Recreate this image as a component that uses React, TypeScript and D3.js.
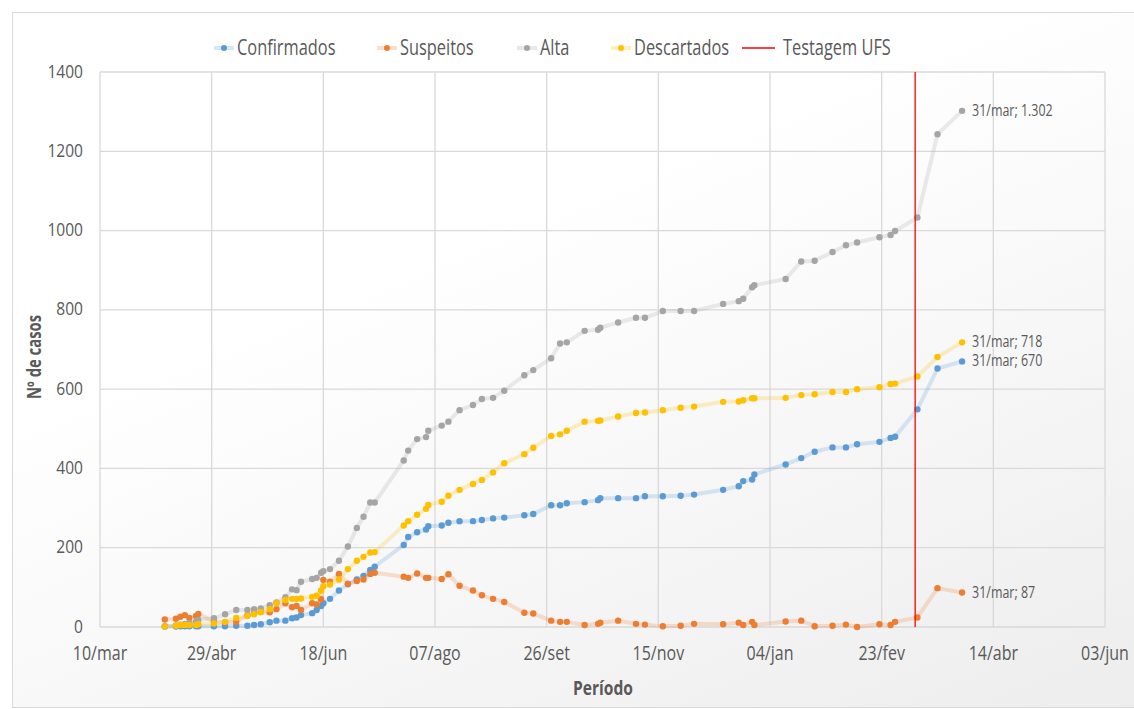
import React from "react";
import * as d3 from "d3";

// datas dos boletins (UFS)
const datas = [
  "2020-04-08", "2020-04-13", "2020-04-15", "2020-04-17", "2020-04-19", "2020-04-22", "2020-04-23", "2020-04-30",
  "2020-05-05", "2020-05-10", "2020-05-15", "2020-05-18", "2020-05-21", "2020-05-25", "2020-05-28",
  "2020-06-01", "2020-06-04", "2020-06-06", "2020-06-08", "2020-06-13", "2020-06-15", "2020-06-17", "2020-06-18", "2020-06-21", "2020-06-25", "2020-06-29",
  "2020-07-03", "2020-07-06", "2020-07-09", "2020-07-11", "2020-07-24", "2020-07-26", "2020-07-30",
  "2020-08-03", "2020-08-04", "2020-08-10", "2020-08-13", "2020-08-18", "2020-08-24", "2020-08-28",
  "2020-09-02", "2020-09-07", "2020-09-16", "2020-09-20", "2020-09-28",
  "2020-10-02", "2020-10-05", "2020-10-13", "2020-10-19", "2020-10-20", "2020-10-28",
  "2020-11-05", "2020-11-09", "2020-11-17", "2020-11-25",
  "2020-12-01", "2020-12-14", "2020-12-21", "2020-12-23", "2020-12-27", "2020-12-28",
  "2021-01-11", "2021-01-18", "2021-01-24",
  "2021-02-01", "2021-02-07", "2021-02-12", "2021-02-22", "2021-02-27",
  "2021-03-01", "2021-03-11", "2021-03-20", "2021-03-31",
];

const confirmados = [
  1, 1, 2, 2, 2, 2, 2, 2,
  2, 3, 3, 5, 7, 12, 16,
  16, 22, 24, 30, 35, 43, 53, 60, 71, 92, 108,
  120, 129, 144, 152, 207, 227, 239,
  246, 254, 256, 263, 267, 267, 270,
  274, 276, 282, 285, 307,
  307, 312, 315, 320, 325, 325,
  325, 330, 330, 331,
  334, 346, 355, 368, 372, 385,
  410, 426, 442,
  453, 453, 461, 467, 477,
  480, 549, 652, 670,
];

const suspeitos = [
  19, 21, 26, 30, 23, 28, 33, 14,
  12, 13, 30, 35, 38, 37, 45,
  60, 50, 53, 43, 60, 57, 70, 119, 114, 134, 109,
  116, 120, 134, 137, 127, 124, 135,
  124, 124, 121, 133, 104, 92, 80,
  71, 63, 36, 34, 16,
  13, 13, 5, 8, 11, 16,
  8, 6, 2, 3,
  8, 7, 11, 5, 13, 5,
  14, 16, 2,
  3, 6, 0, 7, 5,
  13, 24, 98, 87,
];

const alta = [
  2, 4, 6, 8, 10, 14, 18, 22,
  32, 43, 43, 45, 47, 55, 62,
  75, 95, 93, 114, 121, 124, 137, 141, 146, 167, 203,
  250, 278, 314, 314, 420, 445, 474,
  479, 495, 508, 518, 547, 560, 575,
  578, 596, 635, 648, 678,
  715, 718, 747, 750, 755, 768,
  780, 780, 797, 797,
  797, 815, 822, 828, 857, 862,
  878, 922, 924,
  946, 963, 970, 983, 989,
  999, 1033, 1243, 1302,
];

const descartados = [
  1, 3, 5, 5, 5, 5, 7, 9,
  13, 23, 28, 32, 38, 45, 60,
  68, 71, 71, 72, 76, 79, 92, 103, 107, 120, 146,
  167, 177, 188, 189, 256, 267, 283,
  298, 308, 316, 331, 346, 361, 371,
  390, 413, 436, 452, 482,
  486, 495, 518, 520, 521, 531,
  540, 541, 547, 553,
  556, 568, 569, 572, 577, 577,
  578, 585, 587,
  593, 593, 600, 605, 613,
  614, 632, 681, 718,
];

const tickDatas = [
  "2020-03-10", "2020-04-29", "2020-06-18", "2020-08-07", "2020-09-26",
  "2020-11-15", "2021-01-04", "2021-02-23", "2021-04-14", "2021-06-03",
];
const tickLabels = ["10/mar", "29/abr", "18/jun", "07/ago", "26/set", "15/nov", "04/jan", "23/fev", "14/abr", "03/jun"];
const yTicks = [0, 200, 400, 600, 800, 1000, 1200, 1400];
const testagemUFS = "2021-03-10";
const rotulos = ["31/mar; 670", "31/mar; 87", "31/mar; 1.302", "31/mar; 718"];

const W = 1134;
const H = 709;
const FONT = "'Open Sans', 'Noto Sans', sans-serif";
const GREY = "#595959";

const parse = d3.timeParse("%Y-%m-%d");

function CText({ x, y, size, anchor = "start", weight = 400, rotate = 0, sx = 0.78, fill = GREY, children }: any) {
  return (
    <g transform={`translate(${x},${y}) rotate(${rotate}) scale(${sx},1)`}>
      <text textAnchor={anchor} fontSize={size} fontWeight={weight} fill={fill} fontFamily={FONT}>
        {children}
      </text>
    </g>
  );
}

export default function App() {
  const x = d3.scaleTime().domain([parse(tickDatas[0])!, parse(tickDatas[tickDatas.length - 1])!]).range([100, 1105]);
  const y = d3.scaleLinear().domain([0, 1400]).range([627, 72]);
  const dts = datas.map((d) => parse(d)!);

  const series = [
    { nome: "Confirmados", valores: confirmados, cor: "#5B9BD5", lx: 214, rot: rotulos[0] },
    { nome: "Suspeitos", valores: suspeitos, cor: "#ED7D31", lx: 377, rot: rotulos[1] },
    { nome: "Alta", valores: alta, cor: "#A5A5A5", lx: 517, rot: rotulos[2] },
    { nome: "Descartados", valores: descartados, cor: "#FFC000", lx: 611, rot: rotulos[3] },
  ];

  const line = d3
    .line<number>()
    .x((_, i) => x(dts[i]))
    .y((v) => y(v));

  const xRed = x(parse(testagemUFS)!);
  const last = dts.length - 1;

  return (
    <svg width={W} height={H} style={{ position: "absolute", left: 0, top: 0 }}>
      <defs>
        <linearGradient id="bg" x1="0.5" y1="0.25" x2="1" y2="1">
          <stop offset="0" stopColor="#ffffff" />
          <stop offset="1" stopColor="#ededed" />
        </linearGradient>
      </defs>
      <rect x={0} y={0} width={W} height={H} fill="#ffffff" />
      <rect x={12.5} y={12.5} width={W - 12} height={H - 14} fill="url(#bg)" stroke="#d9d9d9" />

      {/* grade */}
      {yTicks.map((t) => (
        <line key={"h" + t} x1={100} x2={1105} y1={y(t)} y2={y(t)} stroke="#d9d9d9" strokeWidth={1.3} />
      ))}
      {tickDatas.map((t) => (
        <line key={"v" + t} x1={x(parse(t)!)} x2={x(parse(t)!)} y1={72} y2={627} stroke="#d9d9d9" strokeWidth={1.3} />
      ))}

      {/* rótulos eixos */}
      {yTicks.map((t) => (
        <CText key={"yl" + t} x={83} y={y(t) + 5.5} size={19} sx={0.82} anchor="end">
          {t}
        </CText>
      ))}
      {tickDatas.map((t, i) => (
        <CText key={"xl" + t} x={x(parse(t)!)} y={660} size={20} sx={0.8} anchor="middle">
          {tickLabels[i]}
        </CText>
      ))}
      <CText x={603} y={695} size={20} anchor="middle" weight={700}>
        Período
      </CText>
      <CText x={41} y={357} size={19} anchor="middle" weight={700} rotate={-90}>
        Nº de casos
      </CText>

      {/* séries */}
      {series.map((s) => (
        <g key={s.nome}>
          <path d={line(s.valores) || ""} fill="none" stroke={s.cor} strokeOpacity={0.22} strokeWidth={4} strokeLinejoin="round" />
          {s.valores.map((v, i) => (
            <circle key={i} cx={x(dts[i])} cy={y(v)} r={3.2} fill={s.cor} />
          ))}
          <CText x={x(dts[last]) + 10} y={y(s.valores[last]) + 5} size={16}>
            {s.rot}
          </CText>
        </g>
      ))}

      <line x1={xRed} x2={xRed} y1={72} y2={627} stroke="#FF0000" strokeWidth={1.3} />

      {/* legenda */}
      {series.map((s) => (
        <g key={"lg" + s.nome}>
          <line x1={s.lx} x2={s.lx + 20} y1={48} y2={48} stroke={s.cor} strokeOpacity={0.25} strokeWidth={4} />
          <circle cx={s.lx + 10} cy={48} r={3} fill={s.cor} />
          <CText x={s.lx + 23} y={55} size={21}>
            {s.nome}
          </CText>
        </g>
      ))}
      <line x1={742} x2={775} y1={48} y2={48} stroke="#FF0000" strokeWidth={1.3} />
      <CText x={783} y={55} size={21}>
        Testagem UFS
      </CText>
    </svg>
  );
}
